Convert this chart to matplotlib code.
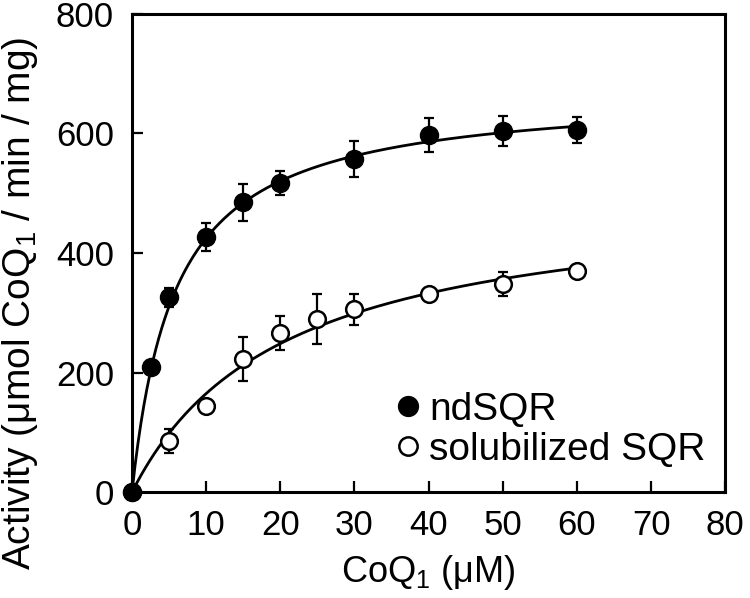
import numpy as np
import matplotlib
matplotlib.use("Agg")
import matplotlib.pyplot as plt

plt.rcParams.update({
    "font.family": ["Liberation Sans", "DejaVu Sans"],
    "mathtext.fontset": "custom",
    "mathtext.rm": "Liberation Sans",
    "mathtext.it": "Liberation Sans:italic",
    "font.size": 25,
})

# ndSQR (filled circles)
nd_x = [0, 2.5, 5, 10, 15, 20, 30, 40, 50, 60]
nd_y = [0, 209, 326, 427, 485, 517, 557, 597, 604, 606]
nd_err = [0, 10, 16, 23, 31, 20, 30, 29, 25, 22]
nd_vmax, nd_km = 671, 5.8      # Michaelis-Menten fit

# solubilized SQR (open circles)
sol_x = [0, 5, 10, 15, 20, 25, 30, 40, 50, 60]
sol_y = [0, 85, 144, 223, 266, 290, 306, 331, 348, 370]
sol_err = [0, 20, 8, 37, 28, 42, 26, 8, 20, 8]
sol_vmax, sol_km = 503, 20.5   # Michaelis-Menten fit

fig = plt.figure(figsize=(7.5, 5.98), dpi=100)
ax = fig.add_axes([0.176, 0.177, 0.791, 0.8])

s = np.linspace(0, 60, 300)
ax.plot(s, nd_vmax * s / (nd_km + s), color="black", lw=2.0, zorder=2)
ax.plot(s, sol_vmax * s / (sol_km + s), color="black", lw=2.0, zorder=2)

ax.errorbar(sol_x, sol_y, yerr=sol_err, fmt="none", ecolor="black",
            elinewidth=1.6, capsize=3.5, capthick=1.6, zorder=3)
ax.errorbar(nd_x, nd_y, yerr=nd_err, fmt="none", ecolor="black",
            elinewidth=1.6, capsize=3.5, capthick=1.6, zorder=3)
ax.plot(sol_x, sol_y, "o", mfc="white", mec="black", mew=1.8, ms=12,
        zorder=4, clip_on=False, label="solubilized SQR")
ax.plot(nd_x, nd_y, "o", mfc="black", mec="black", ms=13,
        zorder=5, clip_on=False, label="ndSQR")

ax.set_xlim(0, 80)
ax.set_ylim(0, 800)
ax.set_xticks(np.arange(0, 81, 10))
ax.set_yticks(np.arange(0, 801, 200))
ax.tick_params(direction="in", length=8, width=1.6, labelsize=25)
ax.tick_params(axis="x", pad=12)
ax.tick_params(axis="y", pad=13)
for sp in ax.spines.values():
    sp.set_linewidth(2.2)

ax.set_xlabel("CoQ$_1$ (μM)", fontsize=26, labelpad=8)
ax.set_ylabel("Activity (μmol CoQ$_1$ / min / mg)", fontsize=28)
ax.yaxis.set_label_coords(-0.155, 0.395)

handles, labels = ax.get_legend_handles_labels()
ax.legend(handles[::-1], labels[::-1], loc="upper left",
          bbox_to_anchor=(0.445, 0.21), frameon=False, fontsize=28,
          handletextpad=0.25, handlelength=0.6, labelspacing=0.1,
          markerscale=1.1, borderpad=0.0, borderaxespad=0.0)

fig.savefig("out.png", dpi=100)
